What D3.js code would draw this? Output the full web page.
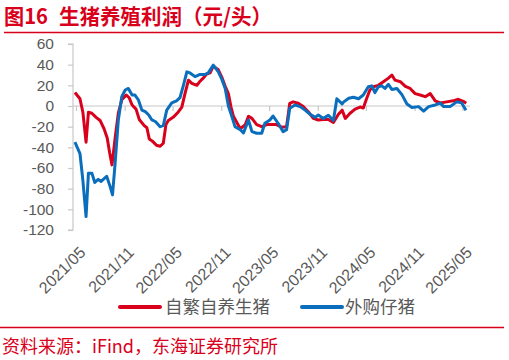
<!DOCTYPE html>
<html><head><meta charset="utf-8">
<script src="https://cdn.jsdelivr.net/npm/d3@7"></script>
<style>
html,body{margin:0;padding:0;background:#fff;}
svg{display:block;}
</style></head>
<body>
<svg id="c" width="509" height="360"></svg>
<script>
const figureNo = "图16";
const title = "生猪养殖利润（元/头）";
const source = "资料来源：iFind，东海证券研究所";
const seriesNames = ["自繁自养生猪", "外购仔猪"];
const yTicks = [60, 40, 20, 0, -20, -40, -60, -80, -100, -120];
const xTickLabels = ["2021/05","2021/11","2022/05","2022/11","2023/05","2023/11","2024/05","2024/11","2025/05"];

const selfBredDates = ["2021-04-27","2021-05-16","2021-05-27","2021-06-08","2021-06-17","2021-06-30","2021-07-16","2021-07-31","2021-08-15","2021-08-27","2021-09-05","2021-09-14","2021-09-26","2021-10-08","2021-10-21","2021-11-07","2021-11-18","2021-11-29","2021-12-14","2021-12-26","2022-01-14","2022-01-24","2022-02-02","2022-02-14","2022-03-01","2022-03-15","2022-03-27","2022-04-06","2022-04-15","2022-05-03","2022-05-22","2022-06-05","2022-06-17","2022-06-30","2022-07-13","2022-08-01","2022-08-13","2022-08-25","2022-09-07","2022-09-20","2022-10-02","2022-10-21","2022-11-03","2022-11-16","2022-11-28","2022-12-08","2022-12-17","2022-12-30","2023-01-12","2023-01-31","2023-02-12","2023-02-25","2023-03-15","2023-04-03","2023-04-22","2023-05-10","2023-05-29","2023-06-17","2023-07-06","2023-07-18","2023-07-31","2023-08-19","2023-09-07","2023-09-26","2023-10-15","2023-11-03","2023-11-22","2023-12-11","2023-12-30","2024-01-18","2024-02-01","2024-02-13","2024-03-02","2024-03-21","2024-04-09","2024-04-21","2024-05-04","2024-05-16","2024-05-29","2024-06-17","2024-07-06","2024-07-25","2024-08-07","2024-08-19","2024-09-08","2024-09-27","2024-10-15","2024-11-03","2024-11-22","2024-12-11","2024-12-30","2025-01-18","2025-02-06","2025-03-02","2025-03-27","2025-04-15","2025-05-04","2025-05-15"];
const selfBredValues = [13,7,-6,-35,-6,-7,-11,-14,-22,-31,-45,-57,-31,-7,6,10.6,8,1,-3,-13,-19,-21,-32,-34,-38,-39,-36,-18,-14,-11,-6,-1,12,25,22,20,24,27,31,32,38.5,35,28,19,12,-1,-10,-16,-22,-18,-10,-12,-18,-20,-18,-18,-18,-20.5,-20,2.6,4,2.6,-0.6,-5.5,-12,-13.5,-13,-13,-16,-8,-4,-12,-7,-3,-1,-2,7.5,15.5,18.7,20,23.5,27,30,25,23.5,19,17,12,10.6,9,12,5,3,4,5,6.5,4.5,2.6];

const purchasedDates = ["2021-04-27","2021-05-16","2021-05-27","2021-06-08","2021-06-17","2021-06-30","2021-07-11","2021-07-24","2021-08-04","2021-08-25","2021-09-07","2021-09-16","2021-09-26","2021-10-08","2021-10-21","2021-11-03","2021-11-15","2021-11-29","2021-12-10","2021-12-23","2022-01-05","2022-01-18","2022-01-31","2022-02-12","2022-02-25","2022-03-15","2022-03-27","2022-04-09","2022-04-28","2022-05-16","2022-05-29","2022-06-11","2022-06-24","2022-07-06","2022-07-25","2022-08-13","2022-09-01","2022-09-13","2022-10-02","2022-10-21","2022-11-03","2022-11-16","2022-11-28","2022-12-11","2022-12-23","2023-01-12","2023-01-24","2023-02-12","2023-02-25","2023-03-15","2023-04-03","2023-04-15","2023-05-04","2023-05-16","2023-06-04","2023-06-23","2023-07-06","2023-07-18","2023-08-07","2023-08-26","2023-09-14","2023-10-03","2023-10-22","2023-11-03","2023-11-22","2023-12-11","2023-12-30","2024-01-12","2024-02-01","2024-02-07","2024-02-26","2024-03-15","2024-04-03","2024-04-21","2024-05-10","2024-05-23","2024-06-04","2024-06-17","2024-06-30","2024-07-12","2024-07-25","2024-08-07","2024-08-26","2024-09-14","2024-10-03","2024-10-22","2024-11-16","2024-12-05","2024-12-24","2025-01-18","2025-02-06","2025-02-19","2025-03-15","2025-04-09","2025-04-28","2025-05-14"];
const purchasedValues = [-35,-46,-72,-107,-65,-65,-74,-71,-73,-68,-78,-86,-55,-13.5,9,15.5,17,10.6,10.6,5.8,-4,-5.5,-8.7,-13.5,-15,-20,-19,-4,3,5,8,20,33,32,28.4,30.5,30.5,32,39.5,33,26,17,0,-10,-20,-23,-26,-13.5,-24.8,-26.4,-26.4,-16.7,-13.5,-9.7,-16.7,-24.8,-23,-2.2,1,-0.6,-4,-8,-11,-8.7,-12,-9,-14,7,2,4,7.5,8.5,7,10.6,18.7,19.5,13,18.7,19.5,17,21,16,17,11,2,-1.5,-0.6,-5,-0.6,1,2.8,-0.6,-0.6,4,3,-4];

const RED = "#d9001b", BLUE = "#0a6ebd", GRAY_TXT = "#595959", AXIS = "#c8c8c8";
const parse = d3.timeParse("%Y-%m-%d");
const svg = d3.select("#c");

const x = d3.scaleTime().domain([parse("2021-05-01"), parse("2025-05-01")]).range([76, 462.5]);
const y = d3.scaleLinear().domain([-120, 60]).range([230, 44]);

// title
svg.append("text").attr("x", 4).attr("y", 24)
  .attr("font-family", "'Noto Sans CJK SC', sans-serif").attr("font-weight", "bold")
  .attr("font-size", 21).attr("fill", RED)
  .attr("textLength", 44).attr("lengthAdjust", "spacingAndGlyphs").text(figureNo);
svg.append("text").attr("x", 59).attr("y", 24)
  .attr("font-family", "'Noto Sans CJK SC', sans-serif").attr("font-weight", "bold")
  .attr("font-size", 21).attr("fill", RED)
  .attr("textLength", 213).attr("lengthAdjust", "spacingAndGlyphs").text(title);
svg.append("line").attr("x1", 4).attr("x2", 504).attr("y1", 32.5).attr("y2", 32.5)
  .attr("stroke", RED).attr("stroke-width", 1.6);

// y axis
const yAxis = svg.append("g").attr("transform", "translate(73,0)")
  .call(d3.axisLeft(y).tickValues(yTicks).tickSize(5).tickPadding(14).tickFormat(d3.format("d")));
yAxis.select(".domain").attr("stroke", AXIS).attr("stroke-width", 1.2);
yAxis.selectAll(".tick line").attr("stroke", AXIS).attr("stroke-width", 1.2);
yAxis.selectAll(".tick text").attr("fill", GRAY_TXT).attr("font-size", 15.5)
  .attr("font-family", "'Liberation Sans', Arial, sans-serif").text(d => d < 0 ? "-" + Math.abs(d) : d);
yAxis.select(".domain").attr("d", `M-5,${y(60)}H0V${y(-120)}H-5`);

// zero line + x ticks
const tickDates = xTickLabels.map(s => parse(s.replace("/", "-") + "-01"));
const xAxis = svg.append("g").attr("transform", `translate(0,${y(0)})`)
  .call(d3.axisBottom(x).tickValues(tickDates).tickSize(5).tickFormat(""));
xAxis.select(".domain").attr("d", `M73,0H470`).attr("stroke", AXIS).attr("stroke-width", 1.2);
xAxis.selectAll(".tick line").attr("stroke", AXIS).attr("stroke-width", 1.2);

// x labels rotated
svg.append("g").selectAll("text").data(tickDates).join("text")
  .attr("transform", (d) => `translate(${x(d) + 2},${245}) rotate(-45)`)
  .attr("text-anchor", "end").attr("dy", "0.75em")
  .attr("font-family", "'Liberation Sans', Arial, sans-serif").attr("font-size", 16)
  .attr("fill", GRAY_TXT).text((d, i) => xTickLabels[i]);

// lines
const line = d3.line().x(d => x(d[0])).y(d => y(d[1])).curve(d3.curveLinear);
const red = selfBredDates.map((d, i) => [parse(d), selfBredValues[i]]);
const blue = purchasedDates.map((d, i) => [parse(d), purchasedValues[i]]);
svg.append("path").datum(red).attr("d", line).attr("fill", "none").attr("stroke", RED)
  .attr("stroke-width", 3).attr("stroke-linejoin", "round");
svg.append("path").datum(blue).attr("d", line).attr("fill", "none").attr("stroke", BLUE)
  .attr("stroke-width", 3).attr("stroke-linejoin", "round");

// legend
const legend = [[seriesNames[0], RED, 120, 165], [seriesNames[1], BLUE, 302, 345]];
legend.forEach(([name, col, lx, tx]) => {
  svg.append("line").attr("x1", lx).attr("x2", lx + 40).attr("y1", 307).attr("y2", 307)
    .attr("stroke", col).attr("stroke-width", 4).attr("stroke-linecap", "round");
  svg.append("text").attr("x", tx).attr("y", 313).attr("font-size", 17.5)
    .attr("font-family", "'Noto Sans CJK SC', sans-serif").attr("fill", GRAY_TXT).text(name);
});

// bottom line & source
svg.append("line").attr("x1", 0).attr("x2", 504).attr("y1", 327.5).attr("y2", 327.5)
  .attr("stroke", RED).attr("stroke-width", 1.6);
svg.append("text").attr("x", 2).attr("y", 352.5).attr("font-size", 18)
  .attr("font-family", "'Noto Sans CJK SC', sans-serif").attr("fill", RED).text(source);
</script>
</body></html>
